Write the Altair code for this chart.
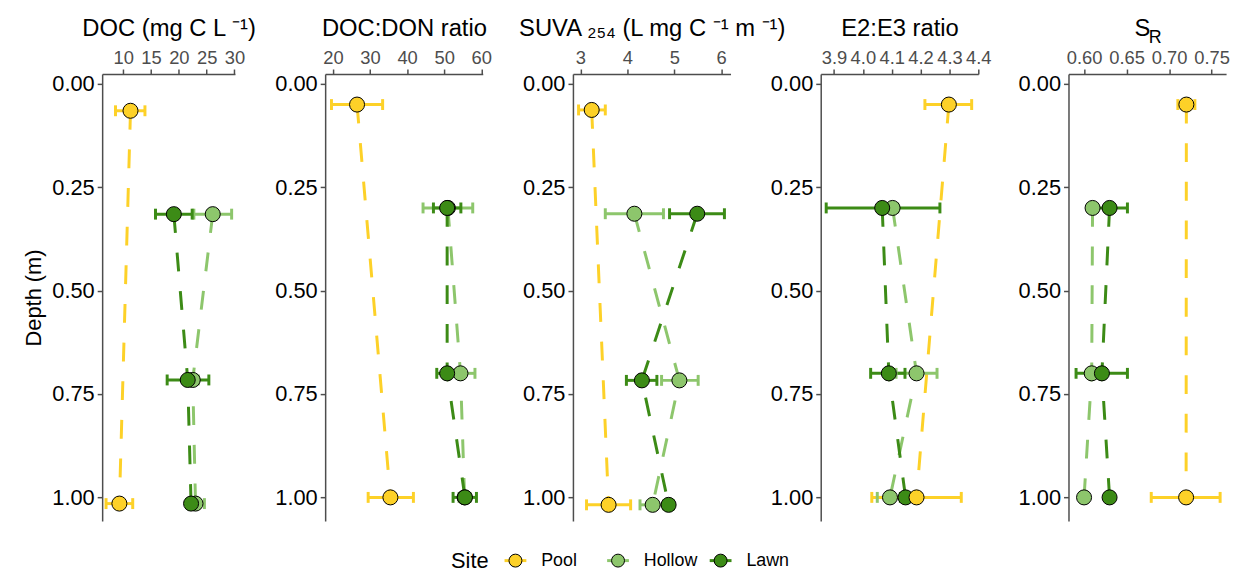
import altair as alt
import pandas as pd

FONT = "Liberation Sans"

site_order = ["Pool", "Hollow", "Lawn"]
site_colors = ["#FDD128", "#8DC66C", "#3C8B16"]

sites = ["Pool", "Pool", "Hollow", "Hollow", "Hollow", "Lawn", "Lawn", "Lawn"]

# DOC (mg C L-1)
doc_depth = [0.065, 1.015, 0.315, 0.716, 1.015, 0.315, 0.716, 1.015]
doc_mean = [11.3, 9.3, 26.1, 22.5, 23.0, 19.1, 21.6, 22.2]
doc_lo = [8.6, 6.9, 22.7, 21.5, 21.5, 15.8, 17.9, 21.4]
doc_hi = [13.9, 11.7, 29.5, 23.5, 24.6, 22.4, 25.4, 23.0]

# DOC:DON ratio
don_depth = [0.05, 1.0, 0.30, 0.70, 1.0, 0.30, 0.70, 1.0]
don_mean = [26.5, 35.5, 51.0, 54.4, 55.5, 50.8, 50.8, 55.6]
don_lo = [19.6, 29.5, 44.3, 50.5, 54.0, 47.1, 48.0, 52.4]
don_hi = [33.4, 41.7, 57.7, 58.3, 57.0, 54.5, 53.6, 58.7]

# SUVA254
suva_depth = [0.063, 1.018, 0.314, 0.717, 1.018, 0.314, 0.717, 1.018]
suva_mean = [3.24, 3.60, 4.15, 5.11, 4.54, 5.49, 4.31, 4.88]
suva_lo = [2.96, 3.13, 3.53, 4.73, 4.27, 4.90, 3.98, 4.78]
suva_hi = [3.53, 4.07, 4.77, 5.51, 4.81, 6.07, 4.63, 4.98]

# E2:E3 ratio
e2e3_depth = [0.05, 1.0, 0.30, 0.70, 1.0, 0.30, 0.70, 1.0]
e2e3_mean = [4.298, 4.186, 4.103, 4.186, 4.094, 4.067, 4.090, 4.148]
e2e3_lo = [4.215, 4.031, 4.085, 4.115, 4.050, 3.873, 4.027, 4.130]
e2e3_hi = [4.377, 4.341, 4.121, 4.257, 4.138, 4.267, 4.146, 4.166]

# S_R
sr_depth = [0.05, 1.0, 0.30, 0.70, 1.0, 0.30, 0.70, 1.0]
sr_mean = [0.7203, 0.720, 0.610, 0.609, 0.600, 0.630, 0.621, 0.630]
sr_lo = [0.7103, 0.679, 0.605, 0.604, 0.597, 0.609, 0.5906, 0.627]
sr_hi = [0.7303, 0.760, 0.615, 0.614, 0.603, 0.651, 0.651, 0.633]

y_ticks = [0.0, 0.25, 0.5, 0.75, 1.0]
y_domain = [-0.024, 1.057]
PH = 451

fill_scale = alt.Scale(domain=site_order, range=site_colors)


def panel(depth, mean, lo, hi, xdom, xticks, xfmt, xtitle, ytitle=None, title_x=None):
    df = pd.DataFrame({"site": sites, "depth": depth, "mean": mean, "lo": lo, "hi": hi})
    df["grp"] = df["site"]
    df["draw"] = df["site"].map({"Hollow": 0, "Lawn": 1, "Pool": 2})
    df = df.sort_values("draw")
    ax_kw = dict(orient="top", values=xticks, format=xfmt, title=xtitle,
                 labelOverlap=False, labelFlush=False)
    if title_x is not None:
        ax_kw["titleX"] = title_x
    xax = alt.Axis(**ax_kw)
    xs = alt.Scale(domain=xdom, nice=False, zero=False)
    ys = alt.Scale(domain=y_domain, reverse=True, nice=False, zero=False)
    if ytitle is None:
        yax = alt.Axis(values=y_ticks, format=".2f", title=None, labelOverlap=False, labelFlush=False)
    else:
        yax = alt.Axis(values=y_ticks, format=".2f", title=ytitle, labelOverlap=False, labelFlush=False)
    col = alt.Color("grp:N", scale=alt.Scale(domain=site_order, range=site_colors), legend=None)
    base = alt.Chart(df)
    y = alt.Y("depth:Q", scale=ys, axis=yax)
    line = base.mark_line(strokeWidth=3, strokeDash=[19, 20]).encode(
        x=alt.X("mean:Q", scale=xs, axis=xax), y=y, color=col, order="depth:Q")
    rule = base.mark_rule(strokeWidth=3).encode(
        x=alt.X("lo:Q", scale=xs, axis=xax), x2="hi:Q", y=y, color=col)
    caps = base.transform_fold(["lo", "hi"], as_=["end", "xv"]).mark_tick(
        orient="vertical", size=11, thickness=3, opacity=1).encode(
        x=alt.X("xv:Q", scale=xs, axis=xax), y=y, color=col)
    pts = base.mark_circle(size=230, stroke="black", strokeWidth=1, opacity=1).encode(
        x=alt.X("mean:Q", scale=xs, axis=xax), y=y,
        fill=alt.Fill("site:N", scale=fill_scale, legend=None))
    return alt.layer(line, rule, caps, pts)


# hand-built "Site" legend, drawn below the middle panel
leg_y = 491
leg_base = alt.Chart(pd.DataFrame({"site": site_order, "grp": site_order}))
leg_x = alt.X("site:N", scale=alt.Scale(type="point", domain=site_order, range=[-58, 149], padding=0),
              axis=None)
leg_line = leg_base.mark_tick(orient="horizontal", size=22, thickness=3, opacity=1).encode(
    x=leg_x, y=alt.value(leg_y),
    color=alt.Color("grp:N", scale=alt.Scale(domain=site_order, range=site_colors), legend=None))
leg_pts = leg_base.mark_circle(size=170, stroke="black", strokeWidth=1, opacity=1).encode(
    x=leg_x, y=alt.value(leg_y), fill=alt.Fill("site:N", scale=fill_scale, legend=None))
leg_lab = leg_base.mark_text(align="left", baseline="middle", dx=26, fontSize=18,
                             font=FONT, color="black").encode(
    x=leg_x, y=alt.value(leg_y), text="site:N")
leg_title = alt.Chart(pd.DataFrame({"t": ["Site"]})).mark_text(
    align="left", baseline="middle", fontSize=22, font=FONT, color="black").encode(
    x=alt.value(-123), y=alt.value(leg_y), text="t:N")
legend_layer = alt.layer(leg_line, leg_pts, leg_lab, leg_title)

p1 = panel(doc_depth, doc_mean, doc_lo, doc_hi, [6.2, 30.1], [10, 15, 20, 25, 30], "d",
           "DOC (mg C L ⁻¹)", ytitle="Depth (m)").properties(width=134, height=PH)
p2 = panel(don_depth, don_mean, don_lo, don_hi, [17.9, 60.4], [20, 30, 40, 50, 60], "d",
           "DOC:DON ratio").properties(width=159, height=PH)
p3 = alt.layer(
    panel(suva_depth, suva_mean, suva_lo, suva_hi, [2.84, 6.2], [3, 4, 5, 6], "d",
          "SUVA ₂₅₄ (L mg C ⁻¹ m ⁻¹)"),
    legend_layer,
).resolve_scale(x="independent").properties(width=159, height=PH)
p4 = panel(e2e3_depth, e2e3_mean, e2e3_lo, e2e3_hi, [3.854, 4.40],
           [3.9, 4.0, 4.1, 4.2, 4.3, 4.4], ".1f", "E2:E3 ratio").properties(width=159, height=PH)
sub_r = alt.Chart(pd.DataFrame({"t": ["R"]})).mark_text(
    fontSize=18, font=FONT, color="black", align="center", baseline="alphabetic").encode(
    x=alt.value(87.5), y=alt.value(-31), text="t:N")
p5 = alt.layer(
    panel(sr_depth, sr_mean, sr_lo, sr_hi, [0.5817, 0.767], [0.60, 0.65, 0.70, 0.75], ".2f",
          "S", title_x=74),
    sub_r,
).properties(width=159, height=PH)

chart = alt.hconcat(p1, p2, p3, p4, p5, spacing=91, bounds="flush").resolve_scale(
    x="independent", y="independent", fill="independent", color="independent"
).properties(
    padding={"left": 15, "top": 6, "right": 5, "bottom": 5}
).configure_view(stroke=None).configure_axis(
    labelFont=FONT, titleFont=FONT, titleFontWeight="normal", titleColor="black",
    domainColor="#4d4d4d", tickColor="#4d4d4d", domainWidth=1.5, tickWidth=1.5, tickSize=5, grid=False,
).configure_axisX(
    labelFontSize=18.5, labelColor="#4d4d4d", titleFontSize=24, titlePadding=8, labelPadding=2,
).configure_axisY(
    labelFontSize=22, labelColor="black", titleFontSize=22, titlePadding=6, labelPadding=3,
)

chart.save("out.html", embed_options={"renderer": "svg", "actions": False})
